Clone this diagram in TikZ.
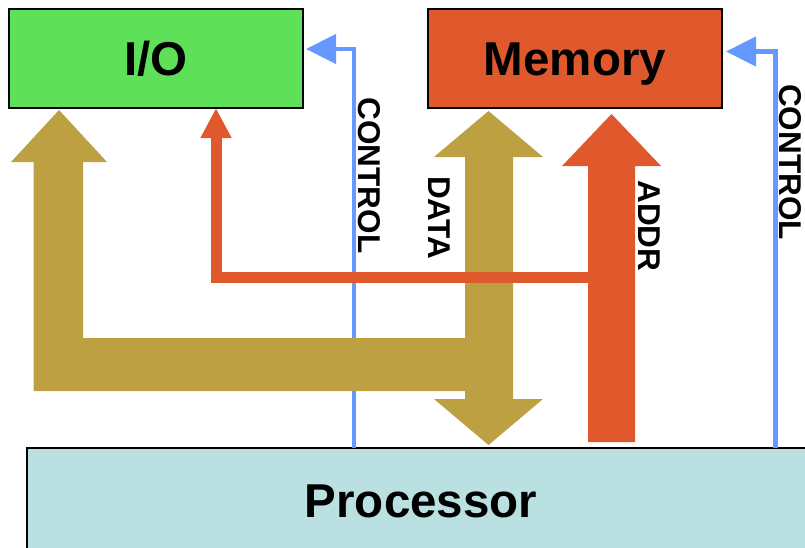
\documentclass[tikz,border=0pt]{standalone}
\usepackage{fontspec}
\setmainfont{Liberation Sans}
\usetikzlibrary{arrows.meta,calc}
\definecolor{iogreen}{RGB}{94,225,88}
\definecolor{memred}{RGB}{224,89,45}
\definecolor{dataolive}{RGB}{188,160,66}
\definecolor{ctrlblue}{RGB}{102,153,255}
\definecolor{proccyan}{RGB}{186,224,226}
\begin{document}
\begin{tikzpicture}[x=1pt,y=-1pt,
  unitbox/.style={draw=black, line width=1.3pt, inner sep=0pt, outer sep=0pt,
    font=\bfseries\fontsize{47.5}{47.5}\selectfont, text height=34pt, text depth=0pt},
  buslabel/.style={rotate=-90, inner sep=0pt, font=\bfseries\fontsize{31.5}{31.5}\selectfont,
    text height=22.5pt, text depth=0pt},
  ctrlline/.style={draw=ctrlblue, line width=4.5pt, -{Triangle[length=30pt,width=29pt]}},
  addrline/.style={draw=memred, line width=11pt, -{Triangle[length=30pt,width=29pt]}},
  databus/.style={fill=dataolive, draw=none},
  addrbus/.style={fill=memred, draw=none}]
\useasboundingbox (0,0) rectangle (805,547);
\clip (0,0) rectangle (805,547);

% units
\node[unitbox, fill=iogreen, minimum width=294pt, minimum height=99pt] (io) at (156,58.5) {I/O};
\node[unitbox, fill=memred, minimum width=294pt, minimum height=99pt] (mem) at (575,58.5) {Memory};
\node[unitbox, fill=proccyan, minimum width=788pt, minimum height=104pt] (proc) at (421,500) {Processor};

% control lines
\coordinate (cl) at (354,0);
\coordinate (cr) at (775.5,0);
\draw[ctrlline] (cl |- proc.north) |- ([xshift=3pt,yshift=9.5pt]io.east);
\draw[ctrlline] (cr |- proc.north) |- ([xshift=4pt,yshift=7pt]mem.east);

% data bus
\path[databus] (33.5,391) -- (33.5,162) -- (11,162) -- (59,110) -- (107,162)
  -- (83,162) -- (83,338) -- (465,338) -- (465,157) -- (434,157) -- (488.5,111)
  -- (543,157) -- (513,157) -- (513,399) -- (543,399) -- (488.5,445) -- (434,399)
  -- (465,399) -- (465,391) -- cycle;

% address line to I/O
\draw[addrline] (600,277) -| ([xshift=60pt]io.south);

% address bus
\path[addrbus] (588,442) -- (588,166) -- (562,166) -- (611.5,114) -- (661,166)
  -- (635,166) -- (635,442) -- cycle;

% labels
\node[buslabel] (lctrl1) at (370,175.5) {CONTROL};
\node[buslabel] (lctrl2) at (791,162) {CONTROL};
\node[buslabel] (ldata) at (440,217.5) {DATA};
\node[buslabel] (laddr) at (650,226) {ADDR};
\end{tikzpicture}
\end{document}
